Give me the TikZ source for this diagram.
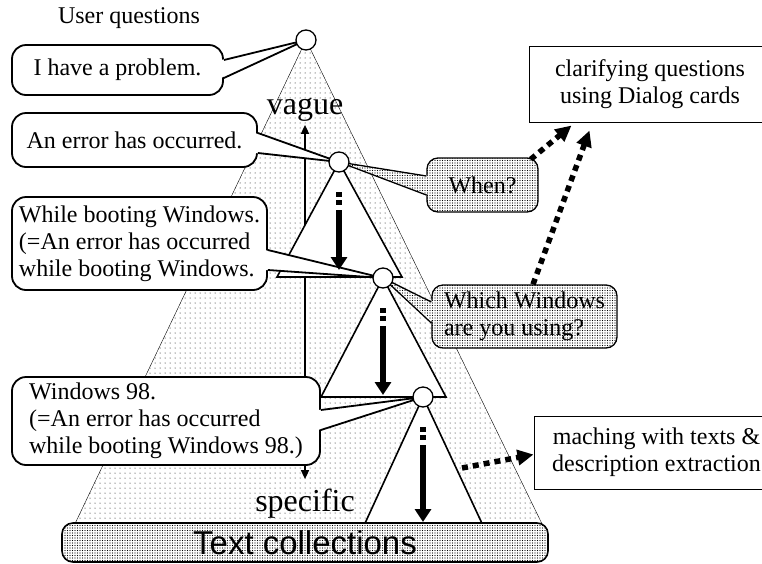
\documentclass[tikz,border=0pt]{standalone}
\usepackage{fontspec}
\setmainfont{Liberation Serif}
\newfontfamily\collfont{Liberation Sans}
\usetikzlibrary{
		positioning,
		patterns.meta,
		arrows.meta
	}
\tikzset{
		>=stealth,
		dense/.style={preaction={fill=white}, pattern={Dots[distance=2.5pt,radius=.6pt]}},
		knot/.style={circle, draw, fill=white, line width=1.3pt, minimum size=20pt, inner sep=0pt},
		said/.style={draw, fill=white, line width=1.8pt, rounded corners=14pt, align=left, inner sep=0pt, font=\fontsize{24}{27}\selectfont},
		asked/.style={draw, line width=1.3pt, dense, rounded corners=11pt, align=left, inner sep=0pt, font=\fontsize{24}{27}\selectfont},
		task/.style={draw, line width=1pt, align=center, inner sep=0pt, font=\fontsize{24}{27}\selectfont},
		subtree/.style={draw, fill=white, line width=1.6pt},
		tail/.style={line width=1.8pt},
		narrow/.style={line width=6pt, dash pattern=on 5pt off 3pt on 5pt off 5pt on 300pt off 1pt, -{Triangle[length=13pt,width=16pt]}},
		hint/.style={line width=5.5pt, dash pattern=on 6pt off 5pt, -{Triangle[length=16pt,width=15pt]}},
		bigword/.style={font=\fontsize{32}{32}\selectfont, inner sep=0pt}
	}

\begin{document}
\begin{tikzpicture}[x=1pt, y=-1pt] % one unit = one pixel, y going down
	\useasboundingbox (0,0) rectangle (762,563);
	\coordinate (k1) at (306,40);
	\coordinate (k2) at (339,162);
	\coordinate (k3) at (383,278);
	\coordinate (k4) at (423,397);

	% the whole space of questions
	\draw[thin, pattern={Dots[distance=5pt,radius=.5pt]}] (k1) -- (72,530) -- (545,530) -- cycle;

	\node[bigword] (vague) at (305,110) {vague};
	\node[bigword] (specific) at (305,504) {specific};
	\draw[line width=1.6pt, {Triangle[length=9pt,width=8pt]}-{Triangle[length=9pt,width=8pt]}]
		([yshift=-3pt]vague.south) -- ([yshift=10pt]specific.north);

	\foreach \k/\h in {k2/115, k3/119, k4/135}{
		\draw[subtree] (\k) -- ++(-62,\h) -- ++(125,0) -- cycle;
	}

	% what the user says
	\node[font=\fontsize{24}{27}\selectfont, inner sep=0pt] (users) at (129,18) {User questions};
	\node[said, minimum width=211pt, minimum height=50pt] (b1) at (117.5,70) {I have a problem.};
	\node[said, minimum width=245pt, minimum height=54pt] (b2) at (134.5,140) {An error has occurred.};
	\node[said, minimum width=255pt, minimum height=93pt] (b3) at (139.5,243.5)
		{While booting Windows.\\(=An error has occurred\\while booting Windows.};
	\node[said, minimum width=308pt, minimum height=88pt] (b4) at (166,421)
		{Windows 98.\\(=An error has occurred\\while booting Windows 98.)};
	\foreach \b/\k/\u/\d in {b1/k1/10/-8, b2/k2/7/-13, b3/k3/-6.5/-26.5, b4/k4/11/-9}{
		\fill[white] ([xshift=-3pt,yshift=\u pt]\b.east) -- (\k) -- ([xshift=-3pt,yshift=\d pt]\b.east) -- cycle;
		\draw[tail] ([yshift=\u pt]\b.east) -- (\k) -- ([yshift=\d pt]\b.east);
	}

	% what the system asks back
	\node[asked, minimum width=111pt, minimum height=54pt] (q1) at (482.5,185) {When?};
	\node[asked, minimum width=185pt, minimum height=63pt] (q2) at (524.5,316.5) {Which Windows\\are you using?};
	\foreach \q/\k/\u/\d in {q1/k2/9/-10, q2/k3/14.5/-6.5}{
		\fill[dense] ([xshift=3pt,yshift=\u pt]\q.west) -- (\k) -- ([xshift=3pt,yshift=\d pt]\q.west) -- cycle;
		\draw[line width=1.3pt] ([yshift=\u pt]\q.west) -- (\k) -- ([yshift=\d pt]\q.west);
	}

	\node[task, minimum width=242pt, minimum height=76pt] (r1) at (650,84) {clarifying questions\\using Dialog cards};
	\node[task, minimum width=245pt, minimum height=73pt] (r2) at (656.5,452.5) {maching with texts \&\\description extraction};

	\node[draw, line width=1.6pt, rounded corners=11pt, dense,
		minimum width=486pt, minimum height=39pt, inner sep=0pt,
		font={\collfont\fontsize{33}{33}\selectfont}] (texts) at (305,542.5) {Text collections};

	\foreach \k in {1,...,4}
		\node[knot] (c\k) at (k\k) {};

	% narrowing down inside each subtree
	\foreach \k/\t in {k2/108, k3/117, k4/125}{
		\draw[narrow] ([yshift=-30pt]\k) -- ([yshift=-\t pt]\k);
	}

	\coordinate (t4) at (462,468);
	\draw[hint] ([xshift=-8pt,yshift=-2pt]q1.north east) -- ([xshift=43pt,yshift=-3pt]r1.south west);
	\draw[hint] ([xshift=8.5pt]q2.north) -- ([xshift=61pt,yshift=-8pt]r1.south west);
	\draw[hint] (t4) -- ([yshift=-2pt]r2.west);
\end{tikzpicture}
\end{document}
